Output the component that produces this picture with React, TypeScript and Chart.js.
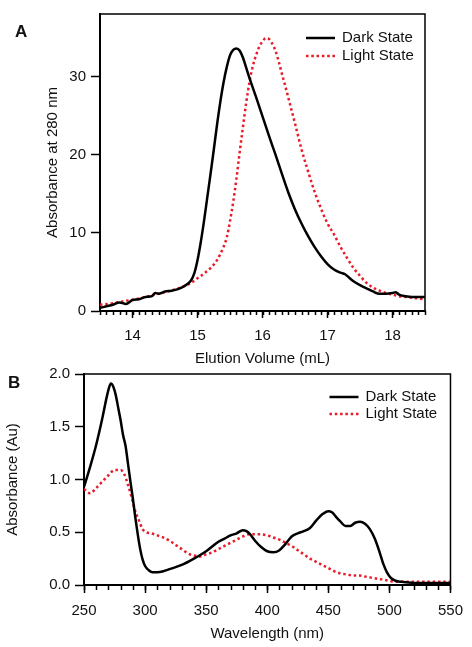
import React, { useEffect, useRef } from 'react';
import { Chart, registerables } from 'chart.js';

Chart.register(...registerables);

const FONT_FAMILY = '"Liberation Sans", Arial, Helvetica, sans-serif';

// ---------- Panel A: size-exclusion elution ----------
const elutionDarkX = [13.5, 13.6, 13.7, 13.8, 13.9, 14.0, 14.1, 14.2, 14.3, 14.35, 14.4, 14.5, 14.6, 14.7, 14.8, 14.9, 14.95, 15.0, 15.05, 15.1, 15.15, 15.2, 15.25, 15.3, 15.35, 15.4, 15.45, 15.5, 15.55, 15.6, 15.65, 15.7, 15.75, 15.8, 15.9, 16.0, 16.1, 16.2, 16.3, 16.4, 16.5, 16.6, 16.7, 16.8, 16.9, 17.0, 17.1, 17.2, 17.27, 17.3, 17.4, 17.5, 17.6, 17.7, 17.8, 17.9, 18.0, 18.05, 18.1, 18.2, 18.3, 18.4, 18.5];
const elutionDarkY = [0.4, 0.6, 0.8, 1.1, 0.9, 1.4, 1.5, 1.8, 1.9, 2.3, 2.2, 2.5, 2.6, 2.8, 3.2, 3.9, 4.8, 6.5, 8.8, 11.5, 14.5, 17.5, 20.6, 23.8, 26.7, 29.2, 31.2, 32.7, 33.4, 33.6, 33.3, 32.4, 31.1, 29.8, 27.4, 24.9, 22.4, 20.0, 17.5, 15.1, 13.0, 11.2, 9.6, 8.2, 7.0, 6.0, 5.3, 4.9, 4.7, 4.5, 3.8, 3.3, 2.9, 2.5, 2.2, 2.2, 2.3, 2.4, 2.1, 1.9, 1.8, 1.8, 1.8];

const elutionLightX = [13.5, 13.7, 13.9, 14.1, 14.3, 14.5, 14.7, 14.9, 15.0, 15.1, 15.2, 15.3, 15.4, 15.45, 15.5, 15.55, 15.6, 15.65, 15.7, 15.75, 15.8, 15.85, 15.9, 15.95, 16.0, 16.05, 16.1, 16.15, 16.2, 16.25, 16.3, 16.35, 16.4, 16.5, 16.6, 16.7, 16.8, 16.9, 17.0, 17.1, 17.2, 17.3, 17.4, 17.5, 17.6, 17.7, 17.8, 17.9, 18.0, 18.1, 18.2, 18.3, 18.4, 18.5];
const elutionLightY = [0.8, 1.0, 1.3, 1.6, 2.0, 2.4, 2.9, 3.6, 4.2, 4.8, 5.5, 6.5, 8.2, 9.4, 11.5, 14.0, 17.0, 20.4, 23.6, 26.7, 29.3, 31.3, 32.7, 33.8, 34.5, 34.9, 34.8, 34.2, 33.3, 31.9, 30.3, 28.8, 27.2, 24.0, 20.7, 17.9, 15.3, 13.1, 11.2, 9.8, 8.2, 6.8, 5.5, 4.5, 3.6, 3.0, 2.6, 2.3, 2.1, 1.9, 1.8, 1.7, 1.6, 1.5];

const elutionTicks = [14, 15, 16, 17, 18];
const absorbance280Ticks = [0, 10, 20, 30];

// ---------- Panel B: absorbance spectra ----------
const spectrumDarkX = [250, 255, 260, 265, 268, 270, 272, 274, 276, 278, 280, 282, 284, 286, 288, 290, 292, 294, 296, 298, 300, 303, 306, 310, 315, 320, 330, 340, 350, 360, 365, 370, 375, 380, 383, 386, 390, 395, 400, 405, 410, 415, 420, 425, 430, 435, 440, 445, 450, 453, 456, 460, 464, 468, 472, 476, 480, 484, 488, 492, 495, 498, 501, 505, 510, 520, 550];
const spectrumDarkY = [0.93, 1.12, 1.33, 1.58, 1.75, 1.85, 1.91, 1.88, 1.80, 1.68, 1.56, 1.42, 1.32, 1.15, 0.98, 0.82, 0.64, 0.48, 0.34, 0.24, 0.18, 0.14, 0.12, 0.12, 0.13, 0.15, 0.19, 0.25, 0.32, 0.41, 0.44, 0.47, 0.49, 0.52, 0.51, 0.48, 0.42, 0.36, 0.32, 0.31, 0.33, 0.39, 0.46, 0.49, 0.51, 0.54, 0.61, 0.67, 0.70, 0.69, 0.65, 0.60, 0.56, 0.56, 0.59, 0.60, 0.58, 0.53, 0.44, 0.31, 0.20, 0.12, 0.07, 0.04, 0.03, 0.02, 0.02];

const spectrumLightX = [250, 255, 260, 265, 270, 275, 280, 283, 286, 289, 292, 295, 298, 301, 305, 310, 315, 320, 325, 330, 335, 340, 345, 350, 355, 360, 365, 370, 375, 380, 385, 390, 395, 400, 405, 410, 415, 420, 425, 430, 435, 440, 445, 450, 455, 460, 465, 470, 475, 480, 485, 490, 495, 500, 505, 510, 550];
const spectrumLightY = [0.91, 0.87, 0.92, 0.98, 1.04, 1.09, 1.09, 1.05, 0.95, 0.83, 0.70, 0.61, 0.53, 0.50, 0.49, 0.47, 0.45, 0.42, 0.38, 0.34, 0.30, 0.28, 0.27, 0.29, 0.31, 0.34, 0.37, 0.40, 0.43, 0.46, 0.48, 0.48, 0.48, 0.47, 0.45, 0.43, 0.40, 0.37, 0.33, 0.29, 0.25, 0.22, 0.19, 0.16, 0.13, 0.11, 0.10, 0.09, 0.09, 0.08, 0.07, 0.06, 0.05, 0.04, 0.03, 0.03, 0.03];

const wavelengthTicks = [250, 300, 350, 400, 450, 500, 550];
const absorbanceTicks = [0, 0.5, 1.0, 1.5, 2.0];

const seriesLabels = ['Dark State', 'Light State'];

const DARK = '#000000';
const RED = 'rgb(232,28,40)';

const toPoints = (xs: number[], ys: number[]) => xs.map((x, i) => ({ x, y: ys[i] }));

const framePlugin = {
  id: 'frame',
  afterDraw(chart: any, _args: any, opts: any) {
    const { ctx, chartArea: ca, scales } = chart;
    ctx.save();
    // top & right frame
    ctx.strokeStyle = '#000';
    ctx.lineWidth = 1.5;
    ctx.beginPath();
    ctx.moveTo(ca.left, ca.top);
    ctx.lineTo(ca.right, ca.top);
    ctx.lineTo(ca.right, ca.bottom);
    ctx.stroke();
    // minor ticks on x axis
    const xs = scales.x;
    const step = opts.minorStep;
    const n = Math.round((xs.max - xs.min) / step);
    ctx.lineWidth = 1.5;
    ctx.beginPath();
    for (let i = 0; i <= n; i++) {
      const v = xs.min + i * step;
      const px = Math.round(xs.getPixelForValue(v)) + 0.5;
      ctx.moveTo(px, ca.bottom);
      ctx.lineTo(px, ca.bottom + opts.minorLen);
    }
    ctx.stroke();
    // legend
    ctx.font = `15px ${FONT_FAMILY}`;
    ctx.textBaseline = 'middle';
    ctx.textAlign = 'left';
    chart.data.datasets.forEach((ds: any, i: number) => {
      const y = ca.top + opts.legendTop + i * opts.legendGap;
      ctx.strokeStyle = ds.borderColor;
      ctx.lineWidth = ds.borderWidth;
      ctx.setLineDash(ds.borderDash || []);
      ctx.beginPath();
      ctx.moveTo(ca.right - opts.lineStart, y);
      ctx.lineTo(ca.right - opts.lineEnd, y);
      ctx.stroke();
      ctx.setLineDash([]);
      ctx.fillStyle = '#111';
      ctx.fillText(ds.label, ca.right - opts.textStart, y);
    });
    ctx.restore();
  },
};

function makeChart(canvas: HTMLCanvasElement, cfg: any) {
  const font = { family: FONT_FAMILY, size: 15 };
  return new Chart(canvas, {
    type: 'line',
    data: {
      datasets: [
        {
          label: seriesLabels[0],
          data: cfg.dark,
          borderColor: DARK,
          borderWidth: 2.5,
          pointRadius: 0,
          fill: false,
          cubicInterpolationMode: 'monotone',
        },
        {
          label: seriesLabels[1],
          data: cfg.light,
          borderColor: RED,
          borderWidth: 2.5,
          borderDash: [2.5, 2.8],
          pointRadius: 0,
          fill: false,
          cubicInterpolationMode: 'monotone',
        },
      ],
    },
    options: {
      responsive: false,
      animation: false,
      events: [],
      layout: { padding: cfg.padding },
      plugins: {
        legend: { display: false },
        tooltip: { enabled: false },
        frame: cfg.frame,
      },
      scales: {
        x: {
          type: 'linear',
          min: cfg.xMin,
          max: cfg.xMax,
          afterBuildTicks: (s: any) => {
            s.ticks = cfg.xTicks.map((v: number) => ({ value: v }));
          },
          afterFit: (s: any) => {
            s.height = cfg.xHeight;
          },
          ticks: { font, color: '#111', padding: cfg.xTickPad, maxRotation: 0, autoSkip: false },
          grid: { drawOnChartArea: false, drawTicks: true, tickLength: cfg.xTickLen, tickWidth: 1.5, tickColor: '#000' },
          border: { display: true, color: '#000', width: 2 },
          title: { display: true, text: cfg.xTitle, font, color: '#111', padding: { top: 0, bottom: cfg.xTitlePad } },
        },
        y: {
          type: 'linear',
          min: cfg.yMin,
          max: cfg.yMax,
          afterBuildTicks: (s: any) => {
            s.ticks = cfg.yTicks.map((v: number) => ({ value: v }));
          },
          afterFit: (s: any) => {
            s.width = cfg.yWidth;
          },
          ticks: {
            font,
            color: '#111',
            padding: 5,
            callback: cfg.yFormat,
          },
          grid: { drawOnChartArea: false, drawTicks: true, tickLength: cfg.yTickLen, tickWidth: 1.5, tickColor: '#000' },
          border: { display: true, color: '#000', width: 2 },
          title: { display: true, text: cfg.yTitle, font, color: '#111', padding: { top: cfg.yTitlePad, bottom: 0 } },
        },
      },
    },
    plugins: [framePlugin],
  } as any);
}

export default function App() {
  const refA = useRef<HTMLCanvasElement>(null);
  const refB = useRef<HTMLCanvasElement>(null);

  useEffect(() => {
    const a = makeChart(refA.current!, {
      dark: toPoints(elutionDarkX, elutionDarkY),
      light: toPoints(elutionLightX, elutionLightY),
      padding: { left: 0, top: 10, right: 47, bottom: 0 },
      xMin: 13.5,
      xMax: 18.5,
      xTicks: elutionTicks,
      xHeight: 59,
      xTickLen: 7,
      xTickPad: 9,
      xTitle: 'Elution Volume (mL)',
      xTitlePad: 2,
      yMin: 0,
      yMax: 38,
      yTicks: absorbance280Ticks,
      yWidth: 100,
      yTickLen: 9,
      yTitle: 'Absorbance at 280 nm',
      yTitlePad: 44,
      yFormat: (v: number) => String(v),
      frame: { minorStep: 0.1, minorLen: 4, legendTop: 24, legendGap: 18, lineStart: 119, lineEnd: 90, textStart: 83 },
    });
    const b = makeChart(refB.current!, {
      dark: toPoints(spectrumDarkX, spectrumDarkY),
      light: toPoints(spectrumLightX, spectrumLightY),
      padding: { left: 0, top: 14, right: 21, bottom: 0 },
      xMin: 250,
      xMax: 550,
      xTicks: wavelengthTicks,
      xHeight: 62,
      xTickLen: 8,
      xTickPad: 9,
      xTitle: 'Wavelength (nm)',
      xTitlePad: 4,
      yMin: 0,
      yMax: 2,
      yTicks: absorbanceTicks,
      yWidth: 84,
      yTickLen: 9,
      yTitle: 'Absorbance (Au)',
      yTitlePad: 4,
      yFormat: (v: number) => Number(v).toFixed(1),
      frame: { minorStep: 10, minorLen: 5, legendTop: 23, legendGap: 17, lineStart: 121, lineEnd: 92, textStart: 85 },
    });
    return () => {
      a.destroy();
      b.destroy();
    };
  }, []);

  const panelLabel: React.CSSProperties = {
    position: 'absolute',
    fontFamily: FONT_FAMILY,
    fontWeight: 'bold',
    fontSize: 17,
    lineHeight: '17px',
    color: '#111',
  };

  return (
    <div style={{ position: 'absolute', left: 0, top: 0, width: 472, height: 647, background: '#fff', overflow: 'hidden' }}>
      <canvas ref={refA} width={472} height={370} style={{ position: 'absolute', left: 0, top: 0, width: 472, height: 370 }} />
      <canvas ref={refB} width={472} height={287} style={{ position: 'absolute', left: 0, top: 360, width: 472, height: 287 }} />
      <div style={{ ...panelLabel, left: 15, top: 23 }}>A</div>
      <div style={{ ...panelLabel, left: 8, top: 374 }}>B</div>
    </div>
  );
}
